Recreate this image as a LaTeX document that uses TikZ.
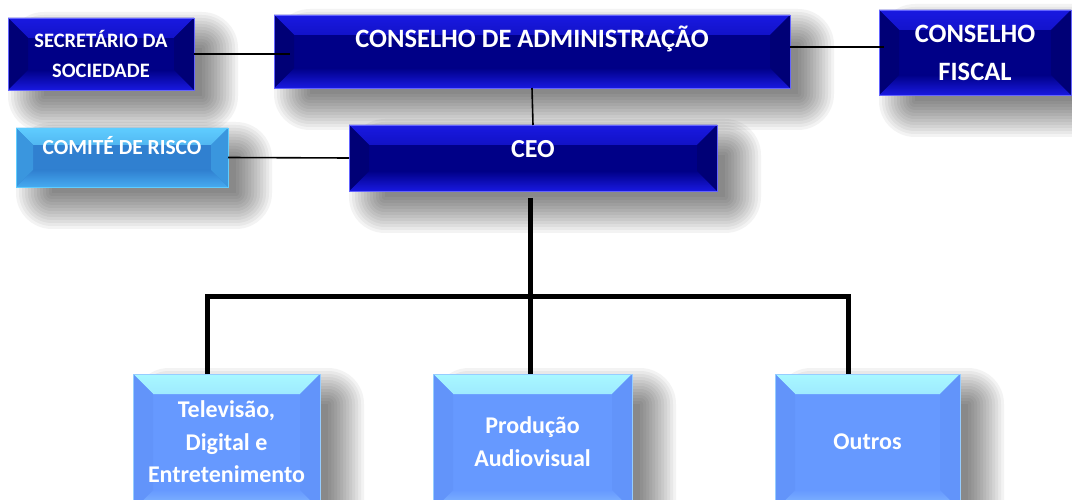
\documentclass[tikz,border=0pt]{standalone}
\usepackage{fontspec}
\setmainfont{Carlito}
\usetikzlibrary{backgrounds}

\definecolor{navyface}{RGB}{0,0,135}
\definecolor{navyedge}{RGB}{25,25,225}
\definecolor{navyside}{RGB}{0,0,118}
\definecolor{navyrim}{RGB}{100,100,255}
\definecolor{skyface}{RGB}{48,128,208}
\definecolor{skyedge}{RGB}{95,205,255}
\definecolor{skyside}{RGB}{58,150,222}
\definecolor{skylow}{RGB}{70,170,240}
\definecolor{paleface}{RGB}{102,153,255}
\definecolor{paleedge}{RGB}{168,248,255}
\definecolor{paleside}{RGB}{98,148,250}
\definecolor{palelow}{RGB}{138,190,255}
\definecolor{palerim}{RGB}{150,205,255}

% bevelled face: #1 width, #2 top band, #3 sides, #4 bottom band
\newcommand{\boxbevel}[4]{%
  \fill[#2] (path picture bounding box.north west) -- (path picture bounding box.north east)
    -- ([shift={(-#1,-#1)}]path picture bounding box.north east)
    -- ([shift={(#1,-#1)}]path picture bounding box.north west) -- cycle;
  \fill[#4] (path picture bounding box.south west) -- (path picture bounding box.south east)
    -- ([shift={(-#1,#1)}]path picture bounding box.south east)
    -- ([shift={(#1,#1)}]path picture bounding box.south west) -- cycle;
  \fill[#3] (path picture bounding box.north west) -- ([shift={(#1,-#1)}]path picture bounding box.north west)
    -- ([shift={(#1,#1)}]path picture bounding box.south west) -- (path picture bounding box.south west) -- cycle;
  \fill[#3] (path picture bounding box.north east) -- ([shift={(-#1,-#1)}]path picture bounding box.north east)
    -- ([shift={(-#1,#1)}]path picture bounding box.south east) -- (path picture bounding box.south east) -- cycle;
}

\begin{document}
\begin{tikzpicture}[x=1pt,y=-1pt,
    box/.style={rectangle,inner sep=0pt,outer sep=0pt,align=center,text=white},
    darkbox/.style={box,fill=navyface,draw=navyrim,line width=0.7pt,
      path picture={\boxbevel{20pt}{top color=navyedge,bottom color=navyface}{navyside}{top color=navyface,bottom color=navyedge}}},
    skybox/.style={box,fill=skyface,draw=skyedge,line width=0.7pt,
      path picture={\boxbevel{17pt}{top color=skyedge,bottom color=skyface}{skyside}{top color=skyface,bottom color=skylow}}},
    palebox/.style={box,fill=paleface,draw=palerim,line width=0.7pt,
      path picture={\boxbevel{20pt}{top color=paleedge,bottom color=paleface}{paleside}{top color=paleface,bottom color=palelow}}},
    link/.style={line width=1.6pt,black},
    trunk/.style={line width=5pt,black,line join=miter}]
    \useasboundingbox (0,0) rectangle (1072,500);
    \clip (0,0) rectangle (1072,500);

    %%% TOP ROW %%%
    \node[darkbox,minimum width=186pt,minimum height=72pt,
      font=\fontsize{20.5}{30}\selectfont\bfseries] (secr) at (101,54)
      {SECRETÁRIO DA\\SOCIEDADE};
    \node[darkbox,minimum width=516pt,minimum height=73pt,
      font=\fontsize{26.5}{30}\selectfont\bfseries,text height=17pt,text depth=24pt] (ca) at (532,51.5)
      {CONSELHO DE ADMINISTRAÇÃO};
    \node[darkbox,minimum width=192pt,minimum height=85pt,
      font=\fontsize{26.5}{38}\selectfont\bfseries] (cf) at (975,52.5)
      {CONSELHO\\FISCAL};

    %%% SECOND ROW %%%
    \node[skybox,minimum width=212pt,minimum height=59pt,
      font=\fontsize{21.5}{25}\selectfont\bfseries,text height=14pt,text depth=19pt] (risco) at (122,157.5)
      {COMITÉ DE RISCO};
    \node[darkbox,minimum width=368pt,minimum height=66pt,
      font=\fontsize{26}{30}\selectfont\bfseries,text height=17pt,text depth=17pt] (ceo) at (533,158)
      {CEO};

    %%% BUSINESS UNITS %%%
    \node[palebox,minimum width=187pt,minimum height=136pt,
      font=\fontsize{24}{32.5}\selectfont\bfseries] (tv) at (226.5,442)
      {Televisão,\\Digital e\\Entretenimento};
    \node[palebox,minimum width=199pt,minimum height=136pt,
      font=\fontsize{24}{33}\selectfont\bfseries] (prod) at (532.5,442)
      {Produção\\Audiovisual};
    \node[palebox,minimum width=185pt,minimum height=136pt,
      font=\fontsize{24}{30}\selectfont\bfseries] (outros) at (867.5,442)
      {Outros};

    %%% SHADOWS %%%
    \begin{scope}[on background layer]
      \foreach \n in {secr,ca,cf,risco,ceo,tv,prod,outros}{
        \foreach \e in {0,3,...,36}{
          \fill[black,opacity=0.048,rounded corners=\e]
            ([xshift=36-\e,yshift=-30+\e]\n.north west) rectangle
            ([xshift=8+\e,yshift=-6-\e]\n.south east);
        }
      }
    \end{scope}

    %%% CONNECTORS %%%
    \draw[link] (secr.east) -- ([xshift=16pt]secr.east -| ca.west);
    \draw[link] ([yshift=4.5pt]ca.east) -- ([xshift=5pt,yshift=4.5pt]ca.east -| cf.west);
    \draw[link] (ca.south) -- (ceo.north);
    \draw[link] (risco.east) -- (ceo.west);

    \coordinate (hub) at (530,296);
    \draw[trunk] ([yshift=-7pt]ceo.south -| hub) -- (hub |- prod.north);
    \draw[trunk] ([xshift=-19.5pt]tv.north) |- (hub) -| ([xshift=-19.5pt]outros.north);
\end{tikzpicture}
\end{document}
